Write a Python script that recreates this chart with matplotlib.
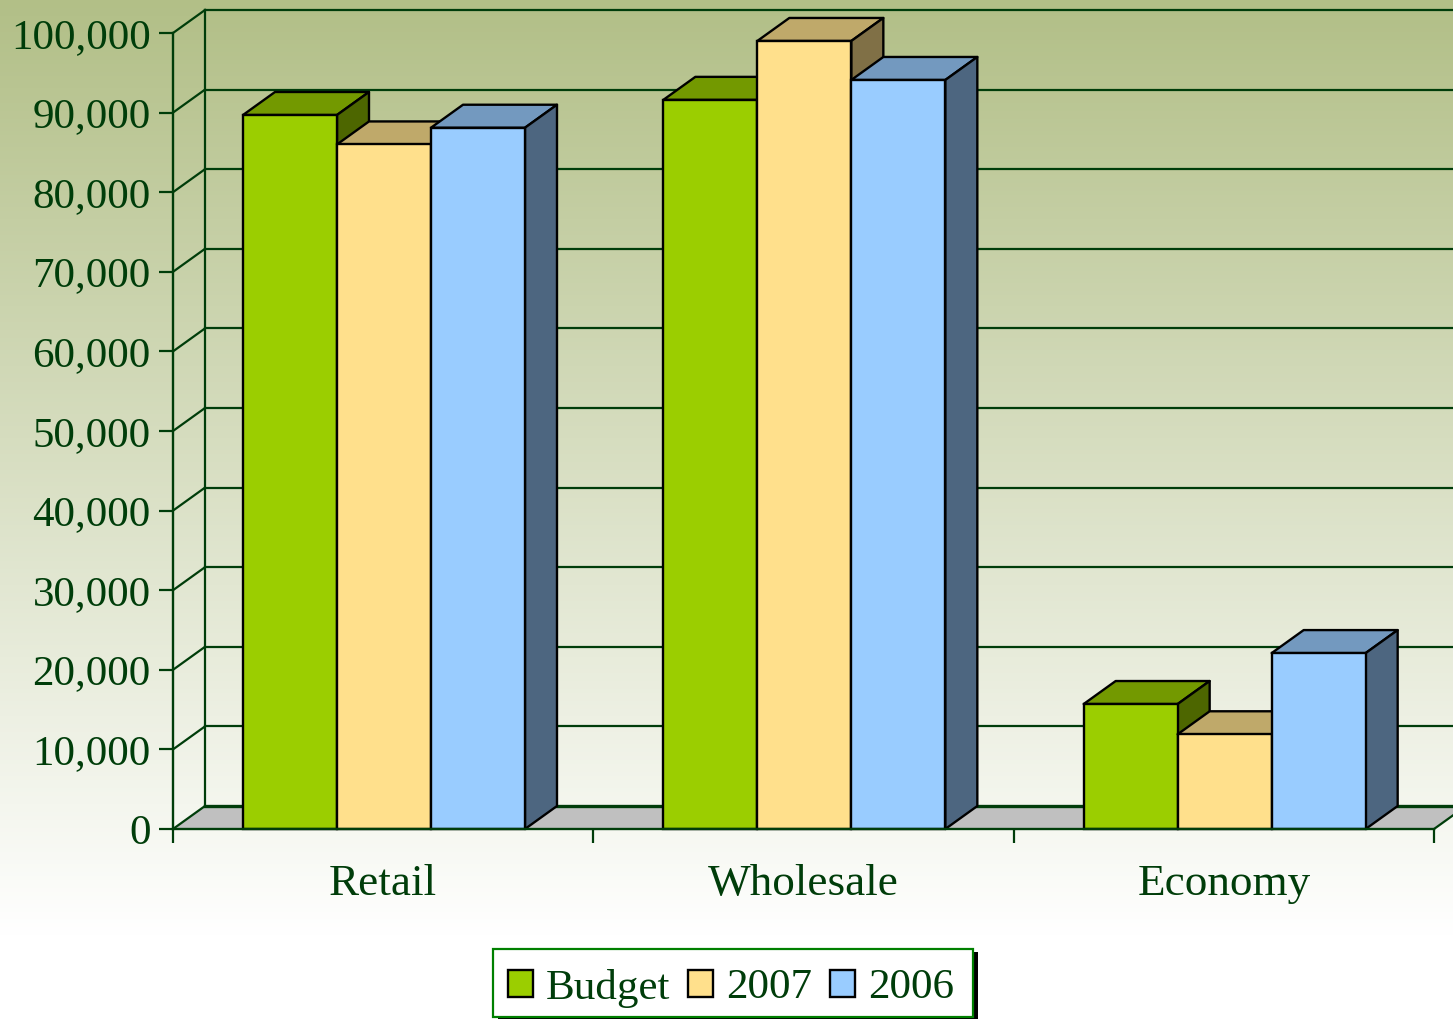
import numpy as np
import matplotlib
matplotlib.use("Agg")
import matplotlib.pyplot as plt
from matplotlib.patches import Patch, Polygon, Rectangle

categories = ["Retail", "Wholesale", "Economy"]
series_names = ["Budget", "2007", "2006"]
budget = [89700, 91600, 15700]
y2007 = [86000, 99000, 11900]
y2006 = [88100, 94100, 22100]
yticks = [0, 10000, 20000, 30000, 40000, 50000, 60000, 70000, 80000, 90000, 100000]

W, H = 1453, 1019
front = ["#9BCE00", "#FFE08C", "#99CCFF"]
top = ["#739900", "#BFA96A", "#7399BF"]
side = ["#4D6600", "#807046", "#4D6680"]
dark = "#003D0A"

plt.rcParams['font.family'] = ['Liberation Serif', 'DejaVu Serif']

fig = plt.figure(figsize=(W / 100, H / 100), dpi=100)

# background gradient
bg = fig.add_axes([0, 0, 1, 1], zorder=0)
c0 = np.array([178, 191, 135]) / 255
c1 = np.array([255, 255, 255]) / 255
t = np.clip(np.linspace(0, 1, 256) / 0.92, 0, 1)[:, None, None]
bg.imshow(c0 + (c1 - c0) * t, aspect='auto', extent=[0, 1, 0, 1])
bg.axis('off')

ax = fig.add_axes([173 / W, (H - 829) / H, (1434 - 173) / W, (829 - 33) / H], zorder=1)
ax.patch.set_alpha(0)
ax.set_xlim(0, 3)
ax.set_ylim(0, 100000)

# depth of the fake 3d, in data units
dx = 32 / ((1434 - 173) / 3)
dy = 23 / ((829 - 33) / 10) * 10000

# floor
ax.add_patch(Polygon([(0, 0), (dx, dy), (3 + dx, dy), (3, 0)], closed=True, fc="#C0C0C0", ec='none', clip_on=False, zorder=1))

# back wall and side wall lines
for v in yticks:
    lw = 2.4 if v == 0 else 1.6
    ax.plot([0, dx], [v, v + dy], color=dark, lw=1.6, clip_on=False, zorder=2)
    ax.plot([dx, 3 + dx], [v + dy, v + dy], color=dark, lw=lw, clip_on=False, zorder=2)
ax.plot([dx, dx], [dy, 100000 + dy], color=dark, lw=1.6, clip_on=False, zorder=2)
ax.plot([3, 3 + dx], [0, dy], color=dark, lw=1.6, clip_on=False, zorder=2)

# bars
bw = 94 / ((1434 - 173) / 3)
gap = 70 / ((1434 - 173) / 3)
z = 3
for g in range(len(categories)):
    for s, vals in enumerate([budget, y2007, y2006]):
        x0 = g + gap + s * bw
        v = vals[g]
        ax.bar(x0, v, bw, align='edge', color=front[s], edgecolor='black', lw=1.7, clip_on=False, zorder=z + 0.5)
        ax.add_patch(Polygon([(x0, v), (x0 + dx, v + dy), (x0 + bw + dx, v + dy), (x0 + bw, v)], closed=True,
                             fc=top[s], ec='black', lw=1.7, clip_on=False, joinstyle='round', zorder=z))
        ax.add_patch(Polygon([(x0 + bw, 0), (x0 + bw + dx, dy), (x0 + bw + dx, v + dy), (x0 + bw, v)], closed=True,
                             fc=side[s], ec='black', lw=1.7, clip_on=False, joinstyle='round', zorder=z))
        z += 1

for sp in ['top', 'right']:
    ax.spines[sp].set_visible(False)
for sp in ['left', 'bottom']:
    ax.spines[sp].set_color(dark)
    ax.spines[sp].set_linewidth(1.7)
    ax.spines[sp].set_zorder(50)

ax.set_yticks(yticks)
ax.set_yticklabels([f"{v:,}" for v in yticks], fontsize=31, color=dark)
ax.set_xticks([0, 1, 2, 3])
ax.set_xticklabels([])
ax.set_xticks([0.5, 1.5, 2.5], minor=True)
ax.set_xticklabels(categories, minor=True, fontsize=32.5, color=dark)
ax.tick_params(axis='y', length=10, width=1.6, color=dark, pad=6)
ax.tick_params(axis='x', which='major', length=10, width=1.6, color=dark)
ax.tick_params(axis='x', which='minor', length=0, pad=25)

# legend box drawn apart so the entries can sit centred in it
fig.add_artist(Rectangle((498 / W, (H - 1020) / H), 480 / W, 68 / H, transform=fig.transFigure, fc='black', ec='none', zorder=58))
fig.add_artist(Rectangle((493 / W, (H - 1017) / H), 480 / W, 68 / H, transform=fig.transFigure, fc='white', ec='#008000', lw=1.6, zorder=59))
handles = [Patch(fc=front[i], ec='black', lw=1.7, label=series_names[i]) for i in range(3)]
leg = fig.legend(handles=handles, loc='center', bbox_to_anchor=(731 / W, (H - 988) / H), ncol=3,
                 fontsize=31, frameon=False, labelcolor=dark, handlelength=0.58, handleheight=0.58,
                 handletextpad=0.3, columnspacing=0.42, borderpad=0, borderaxespad=0)
leg.set_zorder(60)

fig.savefig("out.png", dpi=100)
